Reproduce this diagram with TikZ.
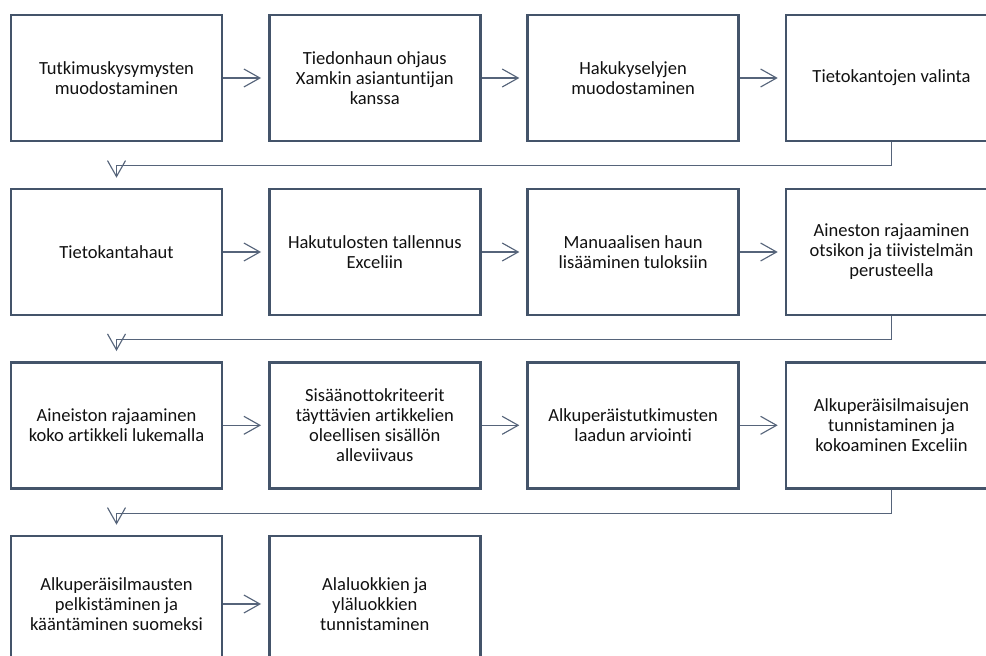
\documentclass[tikz,border=0pt]{standalone}
\usepackage{fontspec}
\setmainfont{Carlito}[RawFeature=-liga]
\usetikzlibrary{arrows.meta,positioning}
\definecolor{boxcol}{HTML}{44546A}
\definecolor{conncol}{HTML}{56647A}
\definecolor{txtcol}{HTML}{111111}
\tikzset{
  stepbox/.style={draw=boxcol, line width=1.9pt, minimum width=158.25pt, minimum height=94.5pt,
    inner sep=2pt, align=center, text=txtcol, font=\fontsize{13.9pt}{15pt}\selectfont},
  lastbox/.style={stepbox, minimum height=102pt},
  conn/.style={draw=conncol, line width=0.85pt, -{Straight Barb[length=12pt,width=13.5pt,line width=0.85pt]}},
  hconn/.style={conn, shorten >=5.25pt},
  vconn/.style={conn, shorten >=7.5pt}
}
\begin{document}
\begin{tikzpicture}[x=0.75pt,y=-0.75pt]
\useasboundingbox (0,0) rectangle (986,656);
\clip (0,0) rectangle (986,656);
% row 1
\node[stepbox] (a1) at (116.5,78) {Tutkimuskysymysten\\muodostaminen};
\node[stepbox] (a2) at (374.8,78) {Tiedonhaun ohjaus\\Xamkin asiantuntijan\\kanssa};
\node[stepbox] (a3) at (633.1,78) {Hakukyselyjen\\muodostaminen};
\node[stepbox] (a4) at (891.5,78) {Tietokantojen valinta};
% row 2
\node[stepbox] (b1) at (116.5,252) {Tietokantahaut};
\node[stepbox] (b2) at (374.8,252) {Hakutulosten tallennus\\Exceliin};
\node[stepbox] (b3) at (633.1,252) {Manuaalisen haun\\lisääminen tuloksiin};
\node[stepbox] (b4) at (891.5,252) {Aineston rajaaminen\\otsikon ja tiivistelmän\\perusteella};
% row 3
\node[stepbox] (c1) at (116.5,425.3) {Aineiston rajaaminen\\koko artikkeli lukemalla};
\node[stepbox] (c2) at (374.8,425.3) {Sisäänottokriteerit\\täyttävien artikkelien\\oleellisen sisällön\\alleviivaus};
\node[stepbox] (c3) at (633.1,425.3) {Alkuperäistutkimusten\\laadun arviointi};
\node[stepbox] (c4) at (891.5,425.3) {Alkuperäisilmaisujen\\tunnistaminen ja\\kokoaminen Exceliin};
% row 4
\node[lastbox] (d1) at (116.5,604) {Alkuperäisilmausten\\pelkistäminen ja\\kääntäminen suomeksi};
\node[lastbox] (d2) at (374.8,604) {Alaluokkien ja\\yläluokkien\\tunnistaminen};
% horizontal arrows
\draw[hconn] (a1) -- (a2);
\draw[hconn] (a2) -- (a3);
\draw[hconn] (a3) -- (a4);
\draw[hconn] (b1) -- (b2);
\draw[hconn] (b2) -- (b3);
\draw[hconn] (b3) -- (b4);
\draw[hconn] (c1) -- (c2);
\draw[hconn] (c2) -- (c3);
\draw[hconn] (c3) -- (c4);
\draw[hconn] (d1) -- (d2);
% row-wrapping connectors
\draw[vconn] (a4.south) -- ++(0,23.5) -| (b1.north);
\draw[vconn] (b4.south) -- ++(0,23.5) -| (c1.north);
\draw[vconn] (c4.south) -- ++(0,23.5) -| (d1.north);
\end{tikzpicture}
\end{document}
